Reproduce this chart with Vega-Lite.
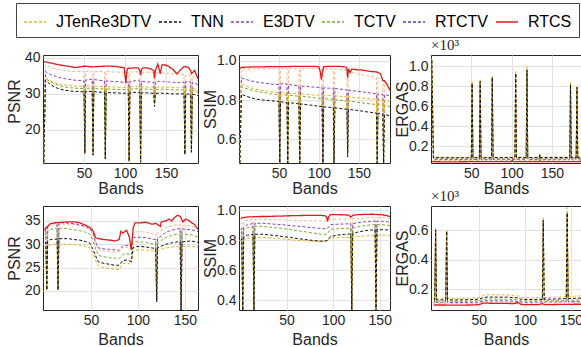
{
"$schema": "https://vega.github.io/schema/vega-lite/v6.json",
"autosize": {"type": "none"},
"padding": {"left": 43, "top": 55, "right": 538, "bottom": 292},
"background": "white",
"datasets": {"d": [
{"p":1,"b":1,"J":11,"T":11,"E":11,"C":11,"R":11,"S":38.8},
{"p":1,"b":3,"J":34.5,"T":33.8,"E":36.2,"C":34.2,"R":38.0,"S":38.9},
{"p":1,"b":9,"J":33.6,"T":32.6,"E":35.4,"C":33.4,"R":37.4,"S":38.6},
{"p":1,"b":15,"J":33.0,"T":31.8,"E":34.9,"C":32.7,"R":37.0,"S":38.3},
{"p":1,"b":21,"J":32.7,"T":31.3,"E":34.5,"C":32.2,"R":36.7,"S":38.0},
{"p":1,"b":27,"J":32.5,"T":31.0,"E":34.2,"C":31.9,"R":36.5,"S":37.8},
{"p":1,"b":33,"J":32.3,"T":30.8,"E":34.0,"C":31.7,"R":36.3,"S":37.6},
{"p":1,"b":39,"J":32.2,"T":30.7,"E":33.8,"C":31.6,"R":36.2,"S":37.3},
{"p":1,"b":45,"J":32.1,"T":30.6,"E":33.7,"C":31.5,"R":36.2,"S":37.5},
{"p":1,"b":50,"J":32.1,"T":30.6,"E":33.6,"C":31.5,"R":36.2,"S":37.7},
{"p":1,"b":51,"J":13.5,"T":13.5,"E":13.5,"C":13.5,"R":13.5},
{"p":1,"b":52,"J":32.2,"T":30.6,"E":33.8,"C":31.5,"R":36.2},
{"p":1,"b":56,"J":32.3,"T":30.7,"E":34.0,"C":31.6,"R":36.3,"S":37.6},
{"p":1,"b":60,"J":32.2,"T":30.6,"E":34.1,"C":31.5,"R":36.3,"S":37.5},
{"p":1,"b":61,"J":13,"T":13,"E":13,"C":13,"R":13},
{"p":1,"b":62,"J":32.2,"T":30.6,"E":34.0,"C":31.5,"R":36.3},
{"p":1,"b":68,"J":32.1,"T":30.5,"E":33.8,"C":31.4,"R":36.2,"S":37.6},
{"p":1,"b":75,"J":32.0,"T":30.4,"E":33.6,"C":31.4,"R":36.2,"S":37.7},
{"p":1,"b":76,"J":12,"T":12,"E":12,"C":12,"R":12},
{"p":1,"b":77,"J":32.0,"T":30.4,"E":33.6,"C":31.4,"R":36.2},
{"p":1,"b":83,"J":31.9,"T":30.3,"E":33.5,"C":31.3,"R":36.1,"S":37.7},
{"p":1,"b":89,"J":31.9,"T":30.3,"E":33.4,"C":31.3,"R":36.1,"S":37.6},
{"p":1,"b":95,"J":31.8,"T":30.2,"E":33.3,"C":31.2,"R":36.0,"S":37.4},
{"p":1,"b":99,"S":37.3},
{"p":1,"b":100,"J":31.8,"T":30.2,"E":33.2,"C":31.2,"R":36.0,"S":35.0},
{"p":1,"b":101,"S":33.0},
{"p":1,"b":102,"S":35.5},
{"p":1,"b":103,"S":37.1},
{"p":1,"b":104,"J":31.9,"T":30.2,"E":33.3,"C":31.3,"R":36.0},
{"p":1,"b":105,"J":11.3,"T":11.3,"E":11.3,"C":11.3,"R":11.3},
{"p":1,"b":106,"J":32.0,"T":30.3,"E":33.4,"C":31.3,"R":36.1},
{"p":1,"b":110,"J":32.0,"T":30.4,"E":33.6,"C":31.4,"R":36.1,"S":37.2},
{"p":1,"b":116,"J":32.0,"T":30.4,"E":33.7,"C":31.4,"R":36.1,"S":37.2},
{"p":1,"b":118,"J":32.0,"T":30.4,"E":33.6,"C":31.4,"R":36.1,"S":36.5},
{"p":1,"b":119,"J":11,"T":11,"E":11,"C":11,"R":11,"S":35.3},
{"p":1,"b":120,"J":32.0,"T":30.3,"E":33.5,"C":31.4,"R":36.0,"S":36.8},
{"p":1,"b":122,"S":37.2},
{"p":1,"b":127,"J":31.9,"T":30.3,"E":33.3,"C":31.3,"R":36.0,"S":37.2},
{"p":1,"b":132,"J":31.9,"T":30.2,"E":33.3,"C":31.3,"R":35.9,"S":36.9},
{"p":1,"b":135,"J":31.8,"T":30.1,"E":33.2,"C":31.2,"R":35.9,"S":36.5},
{"p":1,"b":136,"J":27.5,"T":26.5,"E":27.5,"C":27,"R":28,"S":34.3},
{"p":1,"b":137,"J":31.8,"T":30.1,"E":33.3,"C":31.2,"R":35.9,"S":36.5},
{"p":1,"b":140,"S":38.3},
{"p":1,"b":141,"J":31.9,"T":30.2,"E":33.5,"C":31.3,"R":35.9},
{"p":1,"b":143,"S":35.6},
{"p":1,"b":145,"S":38.0},
{"p":1,"b":147,"J":31.9,"T":30.2,"E":33.4,"C":31.3,"R":35.8,"S":38.1},
{"p":1,"b":152,"S":37.8},
{"p":1,"b":153,"J":31.8,"T":30.1,"E":33.3,"C":31.2,"R":35.7},
{"p":1,"b":158,"S":36.9},
{"p":1,"b":159,"J":31.8,"T":30.0,"E":33.2,"C":31.1,"R":35.6},
{"p":1,"b":163,"S":35.6},
{"p":1,"b":165,"J":31.7,"T":30.0,"E":33.1,"C":31.1,"R":35.5,"S":36.0},
{"p":1,"b":169,"S":37.0},
{"p":1,"b":172,"J":31.7,"T":30.0,"E":33.3,"C":31.1,"R":35.4,"S":37.6},
{"p":1,"b":173,"J":13.2,"T":13.2,"E":13.2,"C":13.2,"R":13.2},
{"p":1,"b":174,"J":31.7,"T":30.0,"E":33.4,"C":31.1,"R":35.3},
{"p":1,"b":177,"S":37.4},
{"p":1,"b":180,"J":31.6,"T":29.9,"E":33.3,"C":31.0,"R":35.1,"S":36.5},
{"p":1,"b":181,"J":13.8,"T":13.8,"E":13.8,"C":13.8,"R":13.8,"S":35.6},
{"p":1,"b":182,"J":31.6,"T":29.9,"E":33.2,"C":31.0,"R":34.9},
{"p":1,"b":185,"J":31.4,"T":29.8,"E":33.0,"C":30.8,"R":34.4,"S":36.5},
{"p":1,"b":189,"J":30.9,"T":29.5,"E":32.5,"C":30.4,"R":33.6,"S":34.2},

{"p":2,"b":1,"J":0.48,"T":0.48,"E":0.48,"C":0.48,"R":0.48,"S":0.96},
{"p":2,"b":3,"J":0.885,"T":0.83,"E":0.912,"C":0.868,"R":0.958,"S":0.967},
{"p":2,"b":9,"J":0.872,"T":0.82,"E":0.905,"C":0.86,"R":0.959,"S":0.968},
{"p":2,"b":15,"J":0.862,"T":0.812,"E":0.898,"C":0.852,"R":0.96,"S":0.969},
{"p":2,"b":21,"J":0.856,"T":0.806,"E":0.893,"C":0.846,"R":0.96,"S":0.97},
{"p":2,"b":27,"J":0.851,"T":0.802,"E":0.889,"C":0.841,"R":0.96,"S":0.97},
{"p":2,"b":33,"J":0.847,"T":0.8,"E":0.886,"C":0.837,"R":0.96,"S":0.97},
{"p":2,"b":39,"J":0.843,"T":0.797,"E":0.883,"C":0.833,"R":0.96,"S":0.971},
{"p":2,"b":45,"J":0.84,"T":0.795,"E":0.88,"C":0.83,"R":0.96,"S":0.971},
{"p":2,"b":50,"J":0.838,"T":0.793,"E":0.879,"C":0.828,"R":0.96,"S":0.971},
{"p":2,"b":51,"J":0.48,"T":0.48,"E":0.48,"C":0.48,"R":0.48},
{"p":2,"b":52,"J":0.838,"T":0.792,"E":0.882,"C":0.828,"R":0.96},
{"p":2,"b":56,"J":0.837,"T":0.79,"E":0.886,"C":0.827,"R":0.96,"S":0.971},
{"p":2,"b":60,"J":0.836,"T":0.788,"E":0.882,"C":0.826,"R":0.96,"S":0.971},
{"p":2,"b":61,"J":0.48,"T":0.48,"E":0.48,"C":0.48,"R":0.48},
{"p":2,"b":62,"J":0.836,"T":0.788,"E":0.88,"C":0.826,"R":0.96},
{"p":2,"b":68,"J":0.834,"T":0.785,"E":0.876,"C":0.823,"R":0.96,"S":0.972},
{"p":2,"b":75,"J":0.832,"T":0.781,"E":0.873,"C":0.82,"R":0.96,"S":0.972},
{"p":2,"b":76,"J":0.48,"T":0.48,"E":0.48,"C":0.48,"R":0.48},
{"p":2,"b":77,"J":0.832,"T":0.781,"E":0.872,"C":0.82,"R":0.96},
{"p":2,"b":83,"J":0.83,"T":0.778,"E":0.87,"C":0.818,"R":0.96,"S":0.972},
{"p":2,"b":89,"J":0.828,"T":0.775,"E":0.868,"C":0.815,"R":0.96,"S":0.972},
{"p":2,"b":95,"J":0.826,"T":0.772,"E":0.866,"C":0.812,"R":0.96,"S":0.972},
{"p":2,"b":100,"J":0.826,"T":0.768,"E":0.865,"C":0.81,"R":0.96,"S":0.97},
{"p":2,"b":102,"S":0.94},
{"p":2,"b":103,"S":0.905},
{"p":2,"b":104,"J":0.825,"T":0.767,"E":0.864,"C":0.809,"R":0.959,"S":0.93},
{"p":2,"b":105,"J":0.48,"T":0.48,"E":0.48,"C":0.48,"R":0.48,"S":0.955},
{"p":2,"b":106,"J":0.825,"T":0.766,"E":0.863,"C":0.808,"R":0.959,"S":0.97},
{"p":2,"b":112,"J":0.824,"T":0.764,"E":0.861,"C":0.806,"R":0.959,"S":0.972},
{"p":2,"b":118,"J":0.823,"T":0.762,"E":0.86,"C":0.804,"R":0.958,"S":0.972},
{"p":2,"b":119,"J":0.48,"T":0.48,"E":0.48,"C":0.48,"R":0.48},
{"p":2,"b":120,"J":0.822,"T":0.761,"E":0.859,"C":0.803,"R":0.958,"S":0.972},
{"p":2,"b":126,"J":0.82,"T":0.758,"E":0.857,"C":0.8,"R":0.957,"S":0.972},
{"p":2,"b":132,"J":0.818,"T":0.755,"E":0.853,"C":0.797,"R":0.955,"S":0.97},
{"p":2,"b":135,"J":0.817,"T":0.754,"E":0.852,"C":0.796,"R":0.953,"S":0.965},
{"p":2,"b":136,"J":0.54,"T":0.51,"E":0.55,"C":0.53,"R":0.56,"S":0.915},
{"p":2,"b":137,"J":0.817,"T":0.753,"E":0.851,"C":0.795,"R":0.95,"S":0.96},
{"p":2,"b":139,"S":0.94},
{"p":2,"b":141,"J":0.815,"T":0.751,"E":0.849,"C":0.793,"R":0.942,"S":0.958},
{"p":2,"b":147,"J":0.813,"T":0.748,"E":0.846,"C":0.79,"R":0.935,"S":0.955},
{"p":2,"b":153,"J":0.811,"T":0.745,"E":0.843,"C":0.787,"R":0.93,"S":0.954},
{"p":2,"b":159,"J":0.809,"T":0.741,"E":0.84,"C":0.784,"R":0.925,"S":0.95},
{"p":2,"b":165,"J":0.807,"T":0.738,"E":0.836,"C":0.781,"R":0.92,"S":0.946},
{"p":2,"b":172,"J":0.804,"T":0.734,"E":0.832,"C":0.778,"R":0.915,"S":0.944},
{"p":2,"b":173,"J":0.48,"T":0.48,"E":0.48,"C":0.48,"R":0.48},
{"p":2,"b":174,"J":0.803,"T":0.733,"E":0.831,"C":0.777,"R":0.913},
{"p":2,"b":177,"S":0.935},
{"p":2,"b":180,"J":0.801,"T":0.729,"E":0.829,"C":0.775,"R":0.905,"S":0.9},
{"p":2,"b":181,"J":0.48,"T":0.48,"E":0.48,"C":0.48,"R":0.48},
{"p":2,"b":182,"J":0.8,"T":0.727,"E":0.828,"C":0.774,"R":0.9,"S":0.9},
{"p":2,"b":185,"J":0.797,"T":0.724,"E":0.826,"C":0.771,"R":0.89,"S":0.88},
{"p":2,"b":189,"J":0.793,"T":0.72,"E":0.823,"C":0.768,"R":0.86,"S":0.85},

{"p":3,"b":1,"J":1.08,"T":1.06,"E":1.06,"C":1.06,"R":1.06,"S":0.05},
{"p":3,"b":3,"J":0.095,"T":0.09,"E":0.072,"C":0.078,"R":0.062,"S":0.048},
{"p":3,"b":15,"J":0.093,"T":0.088,"E":0.071,"C":0.077,"R":0.061,"S":0.047},
{"p":3,"b":30,"J":0.091,"T":0.087,"E":0.07,"C":0.076,"R":0.06,"S":0.047},
{"p":3,"b":50,"J":0.09,"T":0.088,"E":0.07,"C":0.076,"R":0.06,"S":0.048},
{"p":3,"b":51,"J":0.85,"T":0.83,"E":0.83,"C":0.83,"R":0.83},
{"p":3,"b":52,"J":0.09,"T":0.088,"E":0.07,"C":0.076,"R":0.06},
{"p":3,"b":60,"J":0.09,"T":0.088,"E":0.07,"C":0.076,"R":0.06,"S":0.048},
{"p":3,"b":61,"J":0.87,"T":0.85,"E":0.85,"C":0.85,"R":0.85},
{"p":3,"b":62,"J":0.09,"T":0.088,"E":0.07,"C":0.076,"R":0.06},
{"p":3,"b":75,"J":0.091,"T":0.089,"E":0.071,"C":0.077,"R":0.061,"S":0.048},
{"p":3,"b":76,"J":0.9,"T":0.89,"E":0.89,"C":0.89,"R":0.89},
{"p":3,"b":77,"J":0.091,"T":0.089,"E":0.071,"C":0.077,"R":0.061},
{"p":3,"b":90,"J":0.092,"T":0.089,"E":0.072,"C":0.078,"R":0.061,"S":0.048},
{"p":3,"b":100,"S":0.05},
{"p":3,"b":101,"S":0.064},
{"p":3,"b":102,"S":0.05},
{"p":3,"b":104,"J":0.093,"T":0.09,"E":0.072,"C":0.078,"R":0.062},
{"p":3,"b":105,"J":0.95,"T":0.93,"E":0.93,"C":0.93,"R":0.93},
{"p":3,"b":106,"J":0.093,"T":0.09,"E":0.072,"C":0.078,"R":0.062,"S":0.048},
{"p":3,"b":118,"J":0.092,"T":0.089,"E":0.071,"C":0.077,"R":0.061,"S":0.048},
{"p":3,"b":119,"J":1.0,"T":0.965,"E":0.965,"C":0.965,"R":0.965},
{"p":3,"b":120,"J":0.092,"T":0.089,"E":0.071,"C":0.077,"R":0.061},
{"p":3,"b":134,"J":0.092,"T":0.089,"E":0.071,"C":0.077,"R":0.061,"S":0.048},
{"p":3,"b":135,"J":0.125,"T":0.12,"E":0.11,"C":0.115,"R":0.1,"S":0.06},
{"p":3,"b":136,"J":0.092,"T":0.089,"E":0.071,"C":0.077,"R":0.061,"S":0.048},
{"p":3,"b":150,"J":0.093,"T":0.09,"E":0.072,"C":0.078,"R":0.062,"S":0.049},
{"p":3,"b":165,"J":0.094,"T":0.09,"E":0.073,"C":0.079,"R":0.063,"S":0.049},
{"p":3,"b":172,"J":0.094,"T":0.09,"E":0.073,"C":0.079,"R":0.063},
{"p":3,"b":173,"J":0.84,"T":0.82,"E":0.82,"C":0.82,"R":0.82},
{"p":3,"b":174,"J":0.094,"T":0.09,"E":0.073,"C":0.079,"R":0.063},
{"p":3,"b":180,"J":0.095,"T":0.091,"E":0.074,"C":0.08,"R":0.064},
{"p":3,"b":181,"J":0.8,"T":0.79,"E":0.79,"C":0.79,"R":0.79},
{"p":3,"b":182,"J":0.095,"T":0.091,"E":0.074,"C":0.08,"R":0.064},
{"p":3,"b":189,"J":0.096,"T":0.092,"E":0.075,"C":0.081,"R":0.065,"S":0.05},

{"p":4,"b":1,"J":29.5,"T":30.2,"E":33.3,"C":32.0,"R":33.0,"S":32.8},
{"p":4,"b":2,"J":29.6,"T":30.4,"E":33.6,"C":32.3,"R":33.3,"S":33.5},
{"p":4,"b":3,"J":20.2,"T":20.2,"E":20.2,"C":20.2,"R":20.2},
{"p":4,"b":4,"J":29.8,"T":30.7,"E":34.0,"C":32.8,"R":33.7},
{"p":4,"b":7,"J":29.9,"T":31.0,"E":34.4,"C":33.2,"R":34.0,"S":34.4},
{"p":4,"b":12,"J":30.0,"T":31.1,"E":34.6,"C":33.4,"R":34.2,"S":34.6},
{"p":4,"b":14,"J":30.0,"T":31.1,"E":34.6,"C":33.4,"R":34.2},
{"p":4,"b":15,"J":20.2,"T":20.2,"E":20.2,"C":20.2,"R":20.2},
{"p":4,"b":16,"J":30.0,"T":31.2,"E":34.6,"C":33.4,"R":34.3},
{"p":4,"b":20,"J":30.0,"T":31.2,"E":34.6,"C":33.4,"R":34.3,"S":34.7},
{"p":4,"b":26,"J":30.0,"T":31.2,"E":34.5,"C":33.3,"R":34.3,"S":34.8},
{"p":4,"b":32,"J":29.9,"T":31.0,"E":34.4,"C":33.1,"R":34.2,"S":34.8},
{"p":4,"b":38,"J":29.8,"T":30.9,"E":34.2,"C":32.9,"R":34.0,"S":34.6},
{"p":4,"b":44,"J":29.6,"T":30.6,"E":33.8,"C":32.6,"R":33.7,"S":34.1},
{"p":4,"b":49,"J":29.2,"T":30.2,"E":33.3,"C":32.1,"R":33.2,"S":33.6},
{"p":4,"b":52,"J":28.3,"T":29.0,"E":32.5,"C":31.0,"R":32.2,"S":33.0},
{"p":4,"b":54,"S":32.0},
{"p":4,"b":55,"J":26.5,"T":27.5,"E":30.5,"C":29.0,"R":30.0,"S":31.4},
{"p":4,"b":58,"J":25.3,"T":26.2,"E":29.2,"C":27.6,"R":28.8,"S":31.2},
{"p":4,"b":64,"J":25.0,"T":25.9,"E":29.0,"C":27.3,"R":28.6,"S":31.0},
{"p":4,"b":70,"J":24.8,"T":25.7,"E":28.9,"C":27.1,"R":28.5,"S":30.9},
{"p":4,"b":76,"J":24.6,"T":25.5,"E":28.8,"C":27.0,"R":28.4,"S":30.7},
{"p":4,"b":80,"J":24.6,"T":25.5,"E":28.7,"C":26.9,"R":28.3,"S":31.0},
{"p":4,"b":82,"S":32.8},
{"p":4,"b":84,"J":25.8,"T":26.5,"E":29.6,"C":27.8,"R":29.3,"S":32.4},
{"p":4,"b":88,"J":26.0,"T":26.6,"E":29.8,"C":28.0,"R":29.4,"S":33.0},
{"p":4,"b":91,"J":25.8,"T":26.4,"E":29.6,"C":27.8,"R":29.2,"S":31.5},
{"p":4,"b":93,"J":25.7,"T":26.3,"E":29.5,"C":27.7,"R":29.0,"S":28.8},
{"p":4,"b":95,"J":28.5,"T":29.3,"E":31.4,"C":30.4,"R":32.4,"S":33.5},
{"p":4,"b":97,"J":28.7,"T":29.5,"E":31.5,"C":30.5,"R":32.6,"S":34.6},
{"p":4,"b":103,"J":28.8,"T":29.5,"E":31.5,"C":30.5,"R":32.7,"S":34.6},
{"p":4,"b":109,"J":28.8,"T":29.4,"E":31.4,"C":30.4,"R":32.6,"S":34.7},
{"p":4,"b":115,"J":28.6,"T":29.2,"E":31.1,"C":30.1,"R":32.3,"S":34.3},
{"p":4,"b":119,"J":28.5,"T":29.1,"E":31.0,"C":30.0,"R":32.2,"S":34.5},
{"p":4,"b":120,"J":17.7,"T":17.7,"E":17.7,"C":17.7,"R":17.7},
{"p":4,"b":121,"J":28.6,"T":29.2,"E":31.2,"C":30.2,"R":32.4},
{"p":4,"b":124,"S":33.8},
{"p":4,"b":125,"J":28.9,"T":29.6,"E":31.8,"C":30.8,"R":33.0,"S":34.8},
{"p":4,"b":130,"J":29.2,"T":30.0,"E":32.6,"C":31.5,"R":33.6,"S":35.0},
{"p":4,"b":133,"S":35.4},
{"p":4,"b":136,"J":29.4,"T":30.3,"E":33.0,"C":31.9,"R":33.9,"S":35.0},
{"p":4,"b":139,"S":35.7},
{"p":4,"b":142,"J":29.5,"T":30.5,"E":33.3,"C":32.2,"R":34.2,"S":36.2},
{"p":4,"b":145,"J":29.5,"T":30.5,"E":33.4,"C":32.2,"R":34.2,"S":36.0},
{"p":4,"b":146,"J":15.5,"T":15.5,"E":15.5,"C":15.5,"R":15.5},
{"p":4,"b":147,"J":29.5,"T":30.5,"E":33.3,"C":32.2,"R":34.1},
{"p":4,"b":148,"S":34.8},
{"p":4,"b":151,"J":29.6,"T":30.6,"E":33.2,"C":32.1,"R":34.0,"S":35.4},
{"p":4,"b":155,"S":35.0},
{"p":4,"b":157,"J":29.6,"T":30.7,"E":33.1,"C":32.0,"R":33.9,"S":34.6},
{"p":4,"b":160,"S":34.3},
{"p":4,"b":164,"J":29.2,"T":30.4,"E":32.7,"C":31.6,"R":33.4,"S":33.2},

{"p":5,"b":1,"J":0.78,"T":0.8,"E":0.87,"C":0.85,"R":0.91,"S":0.945},
{"p":5,"b":2,"J":0.79,"T":0.81,"E":0.88,"C":0.86,"R":0.918,"S":0.95},
{"p":5,"b":3,"J":0.33,"T":0.33,"E":0.33,"C":0.33,"R":0.33},
{"p":5,"b":4,"J":0.8,"T":0.82,"E":0.89,"C":0.87,"R":0.925},
{"p":5,"b":8,"J":0.815,"T":0.835,"E":0.905,"C":0.885,"R":0.935,"S":0.957},
{"p":5,"b":14,"J":0.818,"T":0.84,"E":0.912,"C":0.893,"R":0.94,"S":0.958},
{"p":5,"b":15,"J":0.33,"T":0.33,"E":0.33,"C":0.33,"R":0.33},
{"p":5,"b":16,"J":0.819,"T":0.841,"E":0.913,"C":0.894,"R":0.941},
{"p":5,"b":22,"J":0.82,"T":0.842,"E":0.915,"C":0.895,"R":0.942,"S":0.96},
{"p":5,"b":30,"J":0.818,"T":0.838,"E":0.912,"C":0.89,"R":0.94,"S":0.96},
{"p":5,"b":38,"J":0.815,"T":0.832,"E":0.908,"C":0.885,"R":0.938,"S":0.962},
{"p":5,"b":46,"J":0.81,"T":0.826,"E":0.905,"C":0.88,"R":0.937,"S":0.963},
{"p":5,"b":54,"J":0.805,"T":0.82,"E":0.9,"C":0.872,"R":0.935,"S":0.965},
{"p":5,"b":62,"J":0.8,"T":0.812,"E":0.895,"C":0.865,"R":0.933,"S":0.966},
{"p":5,"b":70,"J":0.797,"T":0.806,"E":0.89,"C":0.858,"R":0.932,"S":0.967},
{"p":5,"b":78,"J":0.795,"T":0.8,"E":0.885,"C":0.85,"R":0.93,"S":0.967},
{"p":5,"b":86,"J":0.795,"T":0.795,"E":0.88,"C":0.842,"R":0.93,"S":0.967},
{"p":5,"b":91,"J":0.796,"T":0.795,"E":0.878,"C":0.84,"R":0.93,"S":0.966},
{"p":5,"b":93,"S":0.955},
{"p":5,"b":94,"J":0.8,"T":0.8,"E":0.88,"C":0.845,"R":0.93,"S":0.928},
{"p":5,"b":95,"S":0.955},
{"p":5,"b":97,"J":0.815,"T":0.825,"E":0.905,"C":0.875,"R":0.94,"S":0.972},
{"p":5,"b":104,"J":0.818,"T":0.835,"E":0.908,"C":0.878,"R":0.942,"S":0.972},
{"p":5,"b":112,"J":0.82,"T":0.84,"E":0.91,"C":0.88,"R":0.943,"S":0.971},
{"p":5,"b":117,"S":0.968},
{"p":5,"b":119,"J":0.821,"T":0.843,"E":0.911,"C":0.882,"R":0.944,"S":0.955},
{"p":5,"b":120,"J":0.33,"T":0.33,"E":0.33,"C":0.33,"R":0.33},
{"p":5,"b":121,"J":0.822,"T":0.845,"E":0.912,"C":0.883,"R":0.945,"S":0.968},
{"p":5,"b":126,"J":0.825,"T":0.855,"E":0.918,"C":0.89,"R":0.947,"S":0.972},
{"p":5,"b":134,"J":0.83,"T":0.865,"E":0.925,"C":0.9,"R":0.95,"S":0.974},
{"p":5,"b":142,"J":0.832,"T":0.87,"E":0.928,"C":0.905,"R":0.952,"S":0.975},
{"p":5,"b":145,"J":0.833,"T":0.871,"E":0.928,"C":0.905,"R":0.952},
{"p":5,"b":146,"J":0.33,"T":0.33,"E":0.33,"C":0.33,"R":0.33},
{"p":5,"b":147,"J":0.834,"T":0.871,"E":0.928,"C":0.905,"R":0.952},
{"p":5,"b":152,"J":0.835,"T":0.872,"E":0.928,"C":0.905,"R":0.952,"S":0.972},
{"p":5,"b":158,"J":0.835,"T":0.87,"E":0.925,"C":0.902,"R":0.95,"S":0.965},
{"p":5,"b":161,"J":0.832,"T":0.868,"E":0.92,"C":0.9,"R":0.948,"S":0.96},

{"p":6,"b":1,"J":0.14,"T":0.13,"E":0.112,"C":0.12,"R":0.105,"S":0.095},
{"p":6,"b":2,"J":0.141,"T":0.13,"E":0.113,"C":0.12,"R":0.105},
{"p":6,"b":3,"J":0.615,"T":0.605,"E":0.605,"C":0.605,"R":0.605},
{"p":6,"b":4,"J":0.141,"T":0.13,"E":0.113,"C":0.12,"R":0.105},
{"p":6,"b":10,"J":0.141,"T":0.13,"E":0.113,"C":0.121,"R":0.105,"S":0.095},
{"p":6,"b":14,"J":0.141,"T":0.13,"E":0.113,"C":0.121,"R":0.105},
{"p":6,"b":15,"J":0.6,"T":0.595,"E":0.595,"C":0.595,"R":0.595},
{"p":6,"b":16,"J":0.141,"T":0.13,"E":0.113,"C":0.121,"R":0.105},
{"p":6,"b":25,"J":0.14,"T":0.129,"E":0.112,"C":0.12,"R":0.104,"S":0.094},
{"p":6,"b":40,"J":0.142,"T":0.131,"E":0.113,"C":0.121,"R":0.105,"S":0.095},
{"p":6,"b":50,"J":0.145,"T":0.134,"E":0.115,"C":0.124,"R":0.107,"S":0.097},
{"p":6,"b":55,"J":0.16,"T":0.146,"E":0.122,"C":0.133,"R":0.113,"S":0.108},
{"p":6,"b":60,"J":0.165,"T":0.149,"E":0.124,"C":0.135,"R":0.115,"S":0.107},
{"p":6,"b":70,"J":0.164,"T":0.148,"E":0.123,"C":0.134,"R":0.115,"S":0.106},
{"p":6,"b":80,"J":0.163,"T":0.148,"E":0.123,"C":0.134,"R":0.115,"S":0.106},
{"p":6,"b":88,"J":0.158,"T":0.145,"E":0.121,"C":0.131,"R":0.113,"S":0.104},
{"p":6,"b":93,"J":0.156,"T":0.143,"E":0.12,"C":0.13,"R":0.112,"S":0.112},
{"p":6,"b":96,"J":0.145,"T":0.133,"E":0.115,"C":0.123,"R":0.108,"S":0.098},
{"p":6,"b":105,"J":0.143,"T":0.132,"E":0.114,"C":0.122,"R":0.107,"S":0.097},
{"p":6,"b":115,"J":0.144,"T":0.133,"E":0.115,"C":0.123,"R":0.108,"S":0.098},
{"p":6,"b":119,"J":0.145,"T":0.133,"E":0.115,"C":0.123,"R":0.108,"S":0.104},
{"p":6,"b":120,"J":0.685,"T":0.67,"E":0.665,"C":0.665,"R":0.665},
{"p":6,"b":121,"J":0.146,"T":0.134,"E":0.116,"C":0.124,"R":0.108,"S":0.098},
{"p":6,"b":130,"J":0.148,"T":0.135,"E":0.116,"C":0.125,"R":0.109,"S":0.098},
{"p":6,"b":140,"J":0.15,"T":0.137,"E":0.117,"C":0.126,"R":0.11,"S":0.099},
{"p":6,"b":145,"J":0.152,"T":0.138,"E":0.118,"C":0.127,"R":0.11},
{"p":6,"b":146,"J":0.755,"T":0.72,"E":0.71,"C":0.71,"R":0.71},
{"p":6,"b":147,"J":0.152,"T":0.138,"E":0.118,"C":0.127,"R":0.11},
{"p":6,"b":155,"J":0.155,"T":0.14,"E":0.119,"C":0.128,"R":0.111,"S":0.1},
{"p":6,"b":161,"J":0.156,"T":0.141,"E":0.12,"C":0.129,"R":0.112,"S":0.1}
]},
"data": {"name": "d"},
"transform": [{"fold": ["R","E","C","J","T","S"], "as": ["k","v"]}],
"columns": 3,
"spacing": {"row": 43, "column": 41},
"bounds": "flush",
"resolve": {"scale": {"color": "shared", "strokeDash": "shared"}},
"concat": [
{"width": 155, "height": 108,
 "transform": [{"filter": "datum.p == 1"}],
 "mark": {"type": "line", "clip": true, "invalid": "filter"},
 "encoding": {
  "x": {"field": "b", "type": "quantitative", "scale": {"domain": [0,189], "nice": false, "zero": false}, "axis": {"values": [50,100,150], "title": "Bands", "titleY": 30}},
  "y": {"field": "v", "type": "quantitative", "scale": {"domain": [10.8,40.8], "nice": false, "zero": false}, "axis": {"values": [20,30,40], "title": "PSNR", "titleY": 46}},
  "color": {"condition": {"test": "datum.k == 'R'", "value": "#F2B88A"}, "field": "k", "type": "nominal",
    "scale": {"domain": ["J","T","E","C","R","S"], "range": ["#EDB120","#111111","#8E3FBF","#77AC30","#4343C9","#E3191C"]},
    "legend": {"title": null, "orient": "none", "legendX": -27, "legendY": -52, "direction": "horizontal", "columns": 6,
      "labelExpr": "datum.label == 'J' ? 'JTenRe3DTV' : datum.label == 'T' ? 'TNN' : datum.label == 'E' ? 'E3DTV' : datum.label == 'C' ? 'TCTV' : datum.label == 'R' ? 'RTCTV' : 'RTCS'"}},
  "strokeDash": {"field": "k", "type": "nominal",
    "scale": {"domain": ["J","T","E","C","R","S"], "range": [[3,2],[3,2],[3,2],[3,2],[3,2],[1,0]]},
    "legend": {"title": null, "orient": "none", "legendX": -27, "legendY": -52, "direction": "horizontal", "columns": 6,
      "labelExpr": "datum.label == 'J' ? 'JTenRe3DTV' : datum.label == 'T' ? 'TNN' : datum.label == 'E' ? 'E3DTV' : datum.label == 'C' ? 'TCTV' : datum.label == 'R' ? 'RTCTV' : 'RTCS'"}},
  "strokeWidth": {"condition": {"test": "datum.k == 'S'", "value": 1.3}, "value": 1}
 }},
{"width": 151, "height": 108,
 "transform": [{"filter": "datum.p == 2"}],
 "mark": {"type": "line", "clip": true, "invalid": "filter"},
 "encoding": {
  "x": {"field": "b", "type": "quantitative", "scale": {"domain": [0,189], "nice": false, "zero": false}, "axis": {"values": [50,100,150], "title": "Bands", "titleY": 30}},
  "y": {"field": "v", "type": "quantitative", "scale": {"domain": [0.48,1.03], "nice": false, "zero": false}, "axis": {"values": [0.6,0.8,1.0], "format": ".1f", "title": "SSIM"}},
  "color": {"condition": {"test": "datum.k == 'R'", "value": "#F2B88A"}, "field": "k", "type": "nominal"},
  "strokeDash": {"field": "k", "type": "nominal"},
  "strokeWidth": {"condition": {"test": "datum.k == 'S'", "value": 1.3}, "value": 1}
 }},
{"width": 150, "height": 108,
 "title": {"text": "×10³", "anchor": "start", "frame": "group", "font": "Liberation Serif", "fontSize": 15, "fontWeight": "normal", "color": "#262626", "offset": 2},
 "transform": [{"filter": "datum.p == 3"}],
 "mark": {"type": "line", "clip": true, "invalid": "filter"},
 "encoding": {
  "x": {"field": "b", "type": "quantitative", "scale": {"domain": [0,186], "nice": false, "zero": false}, "axis": {"values": [50,100,150], "title": "Bands", "titleY": 30}},
  "y": {"field": "v", "type": "quantitative", "scale": {"domain": [0.035,1.114], "nice": false, "zero": false}, "axis": {"values": [0.2,0.4,0.6,0.8,1.0], "format": ".1f", "title": "ERGAS"}},
  "color": {"condition": {"test": "datum.k == 'R'", "value": "#F2B88A"}, "field": "k", "type": "nominal"},
  "strokeDash": {"field": "k", "type": "nominal"},
  "strokeWidth": {"condition": {"test": "datum.k == 'S'", "value": 1.3}, "value": 1}
 }},
{"width": 155, "height": 104,
 "transform": [{"filter": "datum.p == 4"}],
 "mark": {"type": "line", "clip": true, "invalid": "filter"},
 "encoding": {
  "x": {"field": "b", "type": "quantitative", "scale": {"domain": [-1,164], "nice": false, "zero": false}, "axis": {"values": [50,100,150], "title": "Bands", "titleY": 34}},
  "y": {"field": "v", "type": "quantitative", "scale": {"domain": [15.9,38.2], "nice": false, "zero": false}, "axis": {"values": [20,25,30,35], "title": "PSNR"}},
  "color": {"condition": {"test": "datum.k == 'R'", "value": "#F2B88A"}, "field": "k", "type": "nominal"},
  "strokeDash": {"field": "k", "type": "nominal"},
  "strokeWidth": {"condition": {"test": "datum.k == 'S'", "value": 1.3}, "value": 1}
 }},
{"width": 151, "height": 104,
 "transform": [{"filter": "datum.p == 5"}],
 "mark": {"type": "line", "clip": true, "invalid": "filter"},
 "encoding": {
  "x": {"field": "b", "type": "quantitative", "scale": {"domain": [-1,161], "nice": false, "zero": false}, "axis": {"values": [50,100,150], "title": "Bands", "titleY": 34}},
  "y": {"field": "v", "type": "quantitative", "scale": {"domain": [0.335,1.03], "nice": false, "zero": false}, "axis": {"values": [0.4,0.6,0.8,1.0], "format": ".1f", "title": "SSIM"}},
  "color": {"condition": {"test": "datum.k == 'R'", "value": "#F2B88A"}, "field": "k", "type": "nominal"},
  "strokeDash": {"field": "k", "type": "nominal"},
  "strokeWidth": {"condition": {"test": "datum.k == 'S'", "value": 1.3}, "value": 1}
 }},
{"width": 150, "height": 104,
 "title": {"text": "×10³", "anchor": "start", "frame": "group", "font": "Liberation Serif", "fontSize": 15, "fontWeight": "normal", "color": "#262626", "offset": 2},
 "transform": [{"filter": "datum.p == 6"}],
 "mark": {"type": "line", "clip": true, "invalid": "filter"},
 "encoding": {
  "x": {"field": "b", "type": "quantitative", "scale": {"domain": [-2,161], "nice": false, "zero": false}, "axis": {"values": [50,100,150], "title": "Bands", "titleY": 34}},
  "y": {"field": "v", "type": "quantitative", "scale": {"domain": [0.061,0.766], "nice": false, "zero": false}, "axis": {"values": [0.2,0.4,0.6], "format": ".1f", "title": "ERGAS"}},
  "color": {"condition": {"test": "datum.k == 'R'", "value": "#F2B88A"}, "field": "k", "type": "nominal"},
  "strokeDash": {"field": "k", "type": "nominal"},
  "strokeWidth": {"condition": {"test": "datum.k == 'S'", "value": 1.3}, "value": 1}
 }}
],
"config": {
 "font": "Liberation Sans",
 "view": {"stroke": "#262626", "strokeWidth": 1},
 "axis": {"labelFont": "Liberation Sans", "labelFontSize": 14, "labelColor": "#262626", "titleFont": "Liberation Sans", "titleFontSize": 16, "titleFontWeight": "normal", "titleColor": "#262626", "gridColor": "#e3e3e3", "domain": false, "ticks": false, "labelPadding": 3, "labelFlush": false},
 "axisX": {"titleBaseline": "alphabetic"},
 "axisY": {"titleBaseline": "alphabetic", "titleX": -24},
 "legend": {"strokeColor": "#444444", "padding": 7, "labelFont": "Liberation Sans", "labelFontSize": 16, "labelColor": "#000000", "symbolType": "stroke", "symbolSize": 484, "symbolStrokeWidth": 1.5, "labelOffset": 9, "columnPadding": 4, "cornerRadius": 0, "labelLimit": 300}
}
}
